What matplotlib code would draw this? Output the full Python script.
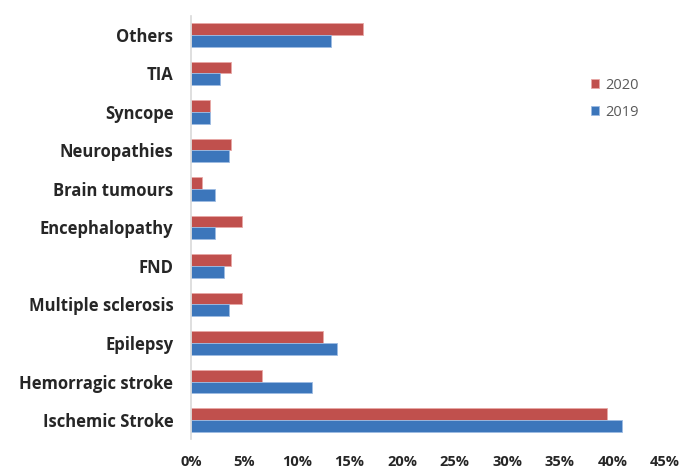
#!usr/bin/env python

import numpy as np
import matplotlib.pyplot as plt
from matplotlib.ticker import FuncFormatter

categories = ['Ischemic Stroke', 'Hemorragic stroke', 'Epilepsy', 'Multiple sclerosis',
              'FND', 'Encephalopathy', 'Brain tumours', 'Neuropathies', 'Syncope',
              'TIA', 'Others']
values_2020 = [39.5, 6.7, 12.5, 4.8, 3.8, 4.8, 1.0, 3.8, 1.8, 3.8, 16.3]
values_2019 = [40.9, 11.5, 13.8, 3.6, 3.1, 2.2, 2.2, 3.6, 1.8, 2.7, 13.3]
x_ticks = [0, 5, 10, 15, 20, 25, 30, 35, 40, 45]

plt.rcParams['font.family'] = ['Open Sans', 'DejaVu Sans']

fig = plt.figure(figsize=(6.92, 4.71), dpi=100)
ax = fig.add_axes([0.2767, 0.0674, 0.6843, 0.8992])

y = np.arange(len(categories))
h = 0.31
ax.barh(y + h/2, values_2020, height=h, color='#C0504D', edgecolor='#E8A8A6',
        linewidth=0.6, label='2020')
ax.barh(y - h/2, values_2019, height=h, color='#3C76BB', edgecolor='#9DBCE3',
        linewidth=0.6, label='2019')

ax.set_ylim(-0.5, len(categories) - 0.5)
ax.set_xlim(0, 45)
ax.set_xticks(x_ticks)
ax.xaxis.set_major_formatter(FuncFormatter(lambda v, p: '{:d}%'.format(int(v))))
ax.set_yticks(y)
ax.set_yticklabels(categories)

for s in ['top', 'right', 'bottom']:
    ax.spines[s].set_visible(False)
ax.spines['left'].set_color('#D9D9D9')
ax.spines['left'].set_linewidth(1.2)

ax.tick_params(axis='both', length=0, colors='#262626')
ax.tick_params(axis='y', pad=13, labelsize=12)
ax.tick_params(axis='x', pad=11, labelsize=10.5)
for lab in ax.get_xticklabels() + ax.get_yticklabels():
    lab.set_fontweight('bold')

leg = ax.legend(loc='upper left', bbox_to_anchor=(0.815, 0.885), frameon=False,
                fontsize=10.5, handlelength=0.6, handleheight=0.6, handletextpad=0.4,
                labelspacing=0.85, labelcolor='#595959')

fig.savefig('out.png', dpi=100)
